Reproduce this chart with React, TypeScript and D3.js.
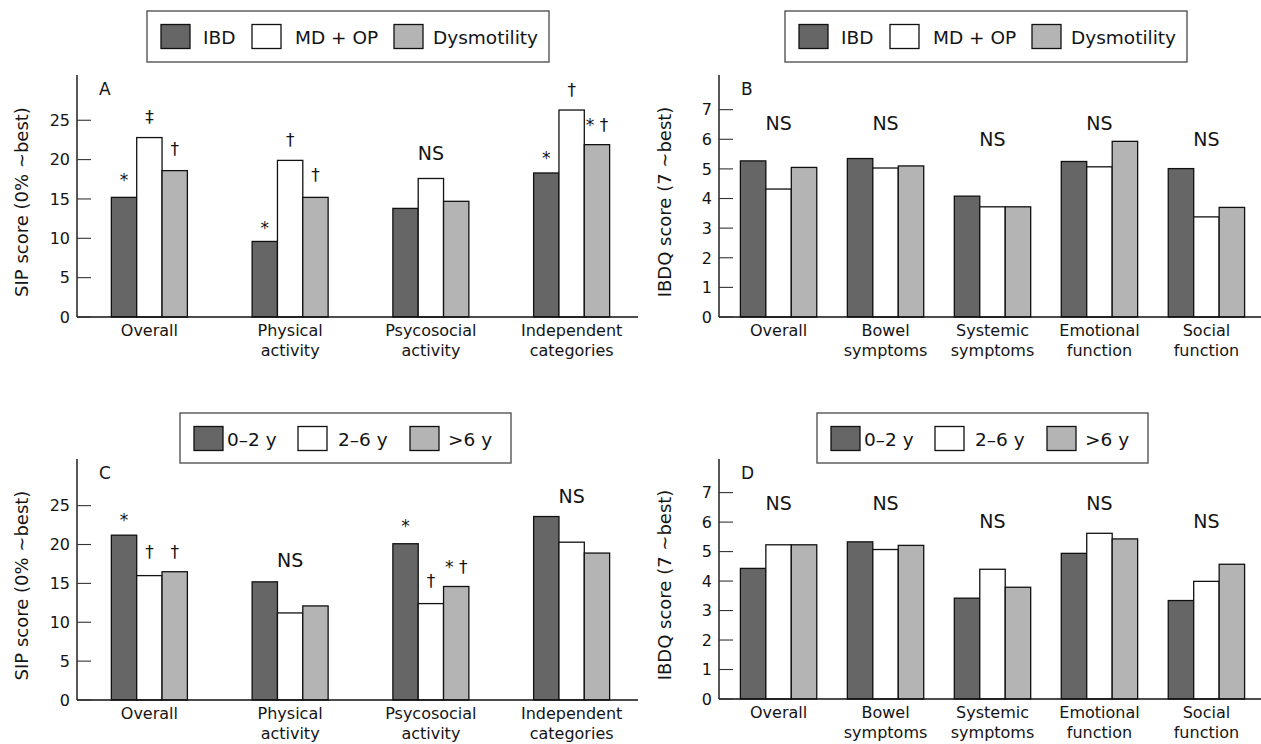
import React from "react";
import * as d3 from "d3";

// ---------- data ----------
const sipCategories: string[][] = [["Overall"], ["Physical", "activity"], ["Psycosocial", "activity"], ["Independent", "categories"]];
const ibdqCategories: string[][] = [["Overall"], ["Bowel", "symptoms"], ["Systemic", "symptoms"], ["Emotional", "function"], ["Social", "function"]];
const diagnosisSeries = ["IBD", "MD + OP", "Dysmotility"];
const durationSeries = ["0–2 y", "2–6 y", ">6 y"];

const sipByDiagnosis = [
  [15.2, 22.8, 18.6],
  [9.6, 19.9, 15.2],
  [13.8, 17.6, 14.7],
  [18.3, 26.3, 21.9],
];
const ibdqByDiagnosis = [
  [5.27, 4.32, 5.05],
  [5.35, 5.03, 5.1],
  [4.08, 3.72, 3.72],
  [5.25, 5.07, 5.93],
  [5.01, 3.38, 3.7],
];
const sipByDuration = [
  [21.2, 16.0, 16.5],
  [15.2, 11.2, 12.1],
  [20.1, 12.4, 14.6],
  [23.6, 20.3, 18.9],
];
const ibdqByDuration = [
  [4.43, 5.23, 5.23],
  [5.33, 5.07, 5.21],
  [3.42, 4.4, 3.79],
  [4.94, 5.62, 5.43],
  [3.34, 3.99, 4.57],
];

const sipTicks = [0, 5, 10, 15, 20, 25];
const ibdqTicks = [0, 1, 2, 3, 4, 5, 6, 7];

type Note = { cat: number; bar: number | null; text: string; at: number };
const notesA: Note[] = [
  { cat: 0, bar: 0, text: "*", at: 16.7 },
  { cat: 0, bar: 1, text: "‡", at: 24.6 },
  { cat: 0, bar: 2, text: "†", at: 20.6 },
  { cat: 1, bar: 0, text: "*", at: 10.6 },
  { cat: 1, bar: 1, text: "†", at: 21.7 },
  { cat: 1, bar: 2, text: "†", at: 17.3 },
  { cat: 2, bar: null, text: "NS", at: 19.95 },
  { cat: 3, bar: 0, text: "*", at: 19.5 },
  { cat: 3, bar: 1, text: "†", at: 28.1 },
  { cat: 3, bar: 2, text: "* †", at: 23.6 },
];
const notesC: Note[] = [
  { cat: 0, bar: 0, text: "*", at: 22.4 },
  { cat: 0, bar: 1, text: "†", at: 18.25 },
  { cat: 0, bar: 2, text: "†", at: 18.25 },
  { cat: 1, bar: null, text: "NS", at: 17.1 },
  { cat: 2, bar: 0, text: "*", at: 21.6 },
  { cat: 2, bar: 1, text: "†", at: 14.5 },
  { cat: 2, bar: 2, text: "* †", at: 16.3 },
  { cat: 3, bar: null, text: "NS", at: 25.3 },
];
const notesB: Note[] = [
  { cat: 0, bar: null, text: "NS", at: 6.33 },
  { cat: 1, bar: null, text: "NS", at: 6.33 },
  { cat: 2, bar: null, text: "NS", at: 5.77 },
  { cat: 3, bar: null, text: "NS", at: 6.33 },
  { cat: 4, bar: null, text: "NS", at: 5.77 },
];
const notesD: Note[] = [
  { cat: 0, bar: null, text: "NS", at: 6.41 },
  { cat: 1, bar: null, text: "NS", at: 6.41 },
  { cat: 2, bar: null, text: "NS", at: 5.81 },
  { cat: 3, bar: null, text: "NS", at: 6.41 },
  { cat: 4, bar: null, text: "NS", at: 5.81 },
];

// ---------- style ----------
const FONT = "'DejaVu Sans', Verdana, sans-serif";
const INK = "#141414";
const FILLS = ["#666666", "#ffffff", "#b4b4b4"];

type PanelProps = {
  letter: string;
  yLabel: string;
  yLabelX: number;
  categories: string[][];
  values: number[][];
  ticks: number[];
  yMax: number;
  notes: Note[];
  axisX: number;
  axisEnd: number;
  xRange: [number, number];
  padInner: number;
  padOuter: number;
  top: number;
  bottom: number;
};

function Panel(p: PanelProps) {
  const y = d3.scaleLinear().domain([0, p.yMax]).range([p.bottom, p.top]);
  const x0 = d3
    .scaleBand<number>()
    .domain(p.categories.map((_, i) => i))
    .range(p.xRange)
    .paddingInner(p.padInner)
    .paddingOuter(p.padOuter);
  const x1 = d3.scaleBand<number>().domain([0, 1, 2]).range([0, x0.bandwidth()]);
  const midY = (p.top + p.bottom) / 2 + 6;
  return (
    <g>
      {p.values.map((row, ci) =>
        row.map((v, si) => (
          <rect
            key={`b${ci}-${si}`}
            x={(x0(ci) as number) + (x1(si) as number)}
            y={y(v)}
            width={x1.bandwidth()}
            height={y(0) - y(v)}
            fill={FILLS[si]}
            stroke="#111"
            strokeWidth={1.3}
          />
        ))
      )}
      <line x1={p.axisX} x2={p.axisX} y1={p.top} y2={p.bottom} stroke="#111" strokeWidth={1.4} />
      <line x1={p.axisX} x2={p.axisEnd} y1={p.bottom} y2={p.bottom} stroke="#111" strokeWidth={1.4} />
      {p.ticks.map((t) => (
        <g key={`t${t}`}>
          <line x1={p.axisX} x2={p.axisX + 14} y1={y(t)} y2={y(t)} stroke="#333" strokeWidth={1.1} />
          <text
            x={p.axisX - 7}
            y={y(t)}
            dy="0.36em"
            textAnchor="end"
            fontSize={16}
            fontFamily={FONT}
            fill={INK}
          >
            {t}
          </text>
        </g>
      ))}
      {p.categories.map((lines, ci) => (
        <text
          key={`c${ci}`}
          x={(x0(ci) as number) + x0.bandwidth() / 2}
          y={p.bottom + 19}
          textAnchor="middle"
          fontSize={16}
          fontFamily={FONT}
          fill={INK}
        >
          {lines.map((ln, li) => (
            <tspan key={li} x={(x0(ci) as number) + x0.bandwidth() / 2} dy={li === 0 ? 0 : 20}>
              {ln}
            </tspan>
          ))}
        </text>
      ))}
      {p.notes.map((n, i) => {
        const cx =
          n.bar === null
            ? (x0(n.cat) as number) + x0.bandwidth() / 2
            : (x0(n.cat) as number) + (x1(n.bar) as number) + x1.bandwidth() / 2;
        const isNS = n.text === "NS";
        return (
          <text
            key={`n${i}`}
            x={cx}
            y={y(n.at)}
            textAnchor="middle"
            fontSize={isNS ? 19 : 17}
            fontFamily={FONT}
            fill={INK}
          >
            {n.text}
          </text>
        );
      })}
      <text x={p.axisX + 22} y={p.top + 20} fontSize={17} fontFamily={FONT} fill={INK}>
        {p.letter}
      </text>
      <text
        transform={`translate(${p.yLabelX},${midY}) rotate(-90)`}
        textAnchor="middle"
        dy="0.36em"
        fontSize={18}
        fontFamily={FONT}
        fill={INK}
      >
        {p.yLabel}
      </text>
    </g>
  );
}

type LegendProps = {
  x: number;
  y: number;
  w: number;
  h: number;
  labels: string[];
  swatchX: number[];
  textX: number[];
};

function Legend(l: LegendProps) {
  return (
    <g>
      <rect x={l.x} y={l.y} width={l.w} height={l.h} fill="#fff" stroke="#555" strokeWidth={1.4} />
      {l.labels.map((lab, i) => (
        <g key={lab}>
          <rect
            x={l.x + l.swatchX[i]}
            y={l.y + 13.5}
            width={29}
            height={24}
            fill={FILLS[i]}
            stroke="#111"
            strokeWidth={1.3}
          />
          <text x={l.x + l.textX[i]} y={l.y + 33} fontSize={18.5} fontFamily={FONT} fill={INK}>
            {lab}
          </text>
        </g>
      ))}
    </g>
  );
}

export default function App() {
  return (
    <svg
      width={1261}
      height={744}
      viewBox="0 0 1261 744"
      style={{ position: "absolute", left: 0, top: 0, background: "#fff" }}
    >
      <Legend x={147} y={11} w={402} h={51} labels={diagnosisSeries} swatchX={[14, 105, 247]} textX={[56, 148, 286]} />
      <Legend x={785} y={11} w={402} h={51} labels={diagnosisSeries} swatchX={[14, 105, 247]} textX={[56, 148, 286]} />
      <Legend x={180} y={413} w={331} h={50} labels={durationSeries} swatchX={[14, 118, 230]} textX={[47, 158, 268]} />
      <Legend x={817} y={413} w={331} h={50} labels={durationSeries} swatchX={[14, 118, 230]} textX={[47, 158, 268]} />

      <Panel
        letter="A"
        yLabel="SIP score (0% ~best)"
        yLabelX={22}
        categories={sipCategories}
        values={sipByDiagnosis}
        ticks={sipTicks}
        yMax={30.75}
        notes={notesA}
        axisX={77}
        axisEnd={638}
        xRange={[79, 642]}
        padInner={0.46}
        padOuter={0.23}
        top={75}
        bottom={317}
      />
      <Panel
        letter="B"
        yLabel="IBDQ score (7 ~best)"
        yLabelX={665}
        categories={ibdqCategories}
        values={ibdqByDiagnosis}
        ticks={ibdqTicks}
        yMax={8.17}
        notes={notesB}
        axisX={719}
        axisEnd={1261}
        xRange={[719, 1266]}
        padInner={0.286}
        padOuter={0.2}
        top={75}
        bottom={317}
      />
      <Panel
        letter="C"
        yLabel="SIP score (0% ~best)"
        yLabelX={22}
        categories={sipCategories}
        values={sipByDuration}
        ticks={sipTicks}
        yMax={31}
        notes={notesC}
        axisX={77}
        axisEnd={638}
        xRange={[79, 642]}
        padInner={0.46}
        padOuter={0.23}
        top={459}
        bottom={700}
      />
      <Panel
        letter="D"
        yLabel="IBDQ score (7 ~best)"
        yLabelX={665}
        categories={ibdqCategories}
        values={ibdqByDuration}
        ticks={ibdqTicks}
        yMax={8.14}
        notes={notesD}
        axisX={719}
        axisEnd={1261}
        xRange={[719, 1266]}
        padInner={0.286}
        padOuter={0.2}
        top={459}
        bottom={699}
      />
    </svg>
  );
}
